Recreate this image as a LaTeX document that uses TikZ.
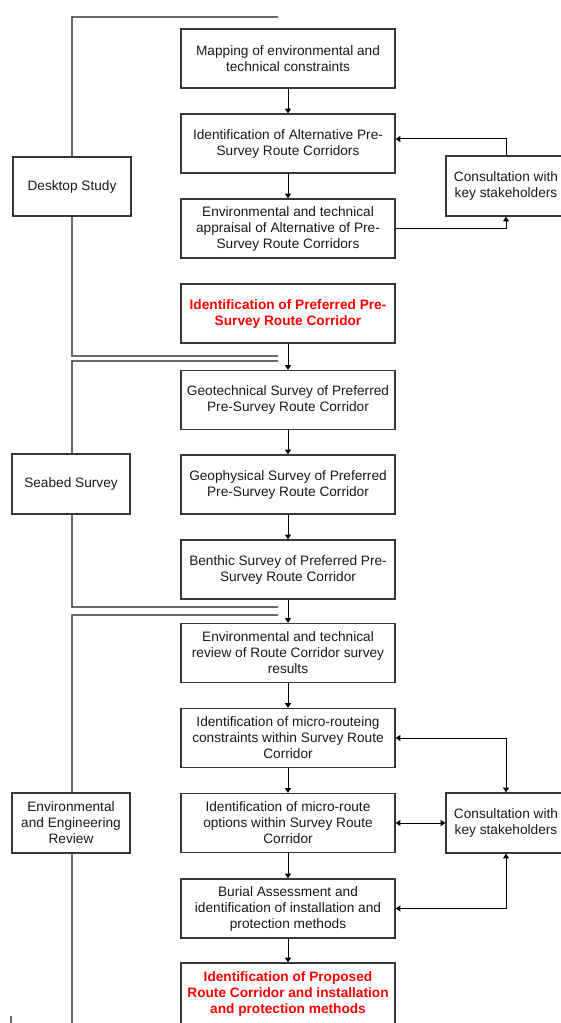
\documentclass[tikz,border=0pt]{standalone}
\usepackage{fontspec}
\setmainfont{Liberation Sans}
\usetikzlibrary{arrows.meta,calc}
\definecolor{txt}{RGB}{25,25,25}
\definecolor{brd}{RGB}{55,55,55}
\definecolor{brk}{RGB}{105,105,105}
\definecolor{redt}{RGB}{255,0,0}
\begin{document}
\begin{tikzpicture}[x=0.75pt,y=-0.75pt,
  every node/.style={font=\fontsize{10.25pt}{12pt}\selectfont, text=txt},
  mainbox/.style={draw=brd, line width=1pt, minimum width=160.5pt, minimum height=44.25pt, align=center, inner sep=0pt},
  sidebox/.style={draw=brd, line width=1pt, minimum width=88.5pt, minimum height=45pt, align=center, inner sep=0pt},
  consbox/.style={draw=brd, line width=1pt, minimum width=90pt, minimum height=45pt, align=center, inner sep=0pt},
  keybox/.style={mainbox, text=redt, font=\fontsize{10.25pt}{12pt}\selectfont\bfseries},
  bracket/.style={draw=brk, line width=1.5pt},
  arr/.style={draw=black, line width=0.75pt, -{Triangle[length=3.5pt,width=4.5pt]}},
  darr/.style={draw=black, line width=0.75pt, {Triangle[length=3.5pt,width=4.5pt]}-{Triangle[length=3.5pt,width=4.5pt]}}
]
\useasboundingbox (0,0) rectangle (560,1023);

% main column
\node[mainbox] (m1) at (288,58.5) {Mapping of environmental and\\technical constraints};
\node[mainbox] (m2) at (288,143.5) {Identification of Alternative Pre-\\Survey Route Corridors};
\node[mainbox] (m3) at (288,228.5) {Environmental and technical\\appraisal of Alternative of Pre-\\Survey Route Corridors};
\node[keybox] (m4) at (288,313.5) {Identification of Preferred Pre-\\Survey Route Corridor};
\node[mainbox] (s1) at (288,400) {Geotechnical Survey of Preferred\\Pre-Survey Route Corridor};
\node[mainbox] (s2) at (288,484.5) {Geophysical Survey of Preferred\\Pre-Survey Route Corridor};
\node[mainbox] (s3) at (288,569.5) {Benthic Survey of Preferred Pre-\\Survey Route Corridor};
\node[mainbox] (e1) at (288,653) {Environmental and technical\\review of Route Corridor survey\\results};
\node[mainbox] (e2) at (288,738) {Identification of micro-routeing\\constraints within Survey Route\\Corridor};
\node[mainbox] (e3) at (288,823) {Identification of micro-route\\options within Survey Route\\Corridor};
\node[mainbox] (e4) at (288,908.5) {Burial Assessment and\\identification of installation and\\protection methods};
\node[keybox, minimum height=45.75pt] (e5) at (288,993.5) {Identification of Proposed\\Route Corridor and installation\\and protection methods};

% side boxes
\node[sidebox, minimum height=44.25pt] (ds) at (72,186.5) {Desktop Study};
\node[sidebox] (sb) at (71,484) {Seabed Survey};
\node[sidebox] (er) at (71,823) {Environmental\\and Engineering\\Review};

% consultation boxes
\node[consbox] (c1) at (506,186) {Consultation with\\key stakeholders};
\node[consbox] (c2) at (506,823) {Consultation with\\key stakeholders};

% brackets
\coordinate (b1a) at (278,17);
\coordinate (b1b) at (278,356);
\coordinate (b2a) at (278,361);
\coordinate (b2b) at (278,607);
\coordinate (b3a) at (278,615);
\coordinate (b3b) at (72,1030);
\draw[bracket] (b1a) -| (ds.north);
\draw[bracket] (ds.south) |- (b1b);
\draw[bracket] (b2a) -| ([xshift=0.75pt]sb.north);
\draw[bracket] ([xshift=0.75pt]sb.south) |- (b2b);
\draw[bracket] (b3a) -| ([xshift=0.75pt]er.north);
\draw[bracket] ([xshift=0.75pt]er.south) -- (b3b);
\draw[brk, line width=1pt] (11,1016) -- (11,1023);

% main arrows
\draw[arr] (m1) -- (m2);
\draw[arr] (m2) -- (m3);
\draw[arr] (m4) -- (s1);
\draw[arr] (s1) -- (s2);
\draw[arr] (s2) -- (s3);
\draw[arr] (s3) -- (e1);
\draw[arr] (e1) -- (e2);
\draw[arr] (e2) -- (e3);
\draw[arr] (e3) -- (e4);
\draw[arr] (e4) -- (e5);

% consultation links
\draw[arr] (c1.north) |- ($(m2.east)+(0,-4.5)$);
\draw[arr] (m3.east) -| (c1.south);
\draw[darr] (e2.east) -| (c2.north);
\draw[darr] (e3.east) -- (c2.west);
\draw[darr] (e4.east) -| (c2.south);
\end{tikzpicture}
\end{document}
